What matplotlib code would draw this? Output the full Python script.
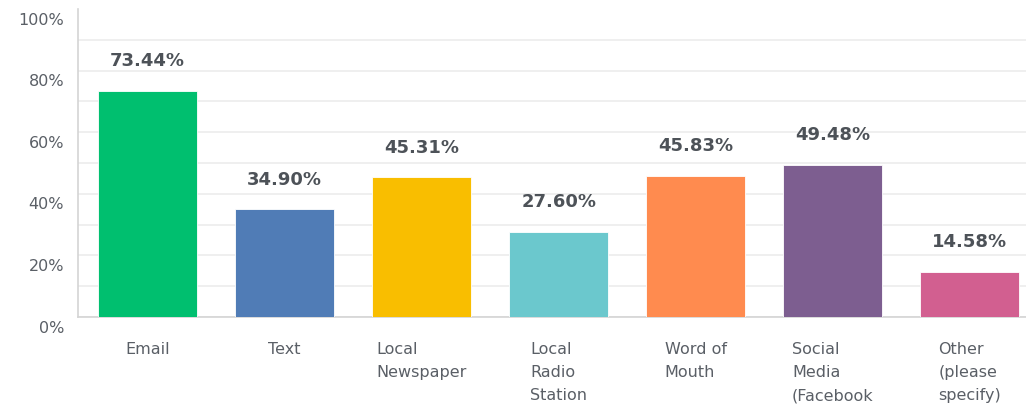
import matplotlib.pyplot as plt
import matplotlib.transforms as mtransforms
import numpy as np

plt.rcParams['font.family'] = ['DejaVu Sans']

categories = ['Email', 'Text', 'Local\nNewspaper', 'Local\nRadio\nStation',
              'Word of\nMouth', 'Social\nMedia\n(Facebook', 'Other\n(please\nspecify)']
values = [73.44, 34.90, 45.31, 27.60, 45.83, 49.48, 14.58]
colors = ['#00BF6F', '#507CB6', '#F9BE00', '#6BC8CD', '#FF8B4F', '#7D5E90', '#D25F90']

fig = plt.figure(figsize=(10.26, 4.11), dpi=100)
ax = fig.add_axes([0.076, 0.229, 0.924, 0.749])

x = np.arange(len(values))
ax.bar(x, values, width=0.72, color=colors, edgecolor='white', linewidth=0.6, zorder=3)

# value labels above each bar
for xi, v in zip(x, values):
    ax.annotate(f'{v:.2f}%', (xi, v), xytext=(0, 15), textcoords='offset points',
                ha='center', va='bottom', fontsize=13, fontweight='bold',
                color='#4d5258')

ax.set_xlim(-0.507, 6.41)
ax.set_ylim(0, 100)
ax.set_yticks(np.arange(0, 101, 20))
ax.set_yticks(np.arange(10, 100, 20), minor=True)
ax.set_yticklabels([f'{t}%' for t in range(0, 101, 20)])
ax.grid(axis='y', which='both', color='#ececec', linewidth=1.2, zorder=0)
ax.yaxis.get_gridlines()[-1].set_visible(False)
ax.tick_params(axis='y', which='both', length=0, pad=10, labelsize=11.5, labelcolor='#5a5f66')
ax.tick_params(axis='x', length=0, pad=18, labelsize=11.5, labelcolor='#5a5f66')

ax.set_xticks(x)
ax.set_xticklabels(categories, multialignment='left', linespacing=1.68, va='top')

# y labels sit a little below their gridlines
offset = mtransforms.ScaledTranslation(0, -7 / 72, fig.dpi_scale_trans)
for lbl in ax.get_yticklabels():
    lbl.set_transform(lbl.get_transform() + offset)

for side in ['top', 'right']:
    ax.spines[side].set_visible(False)
ax.spines['left'].set_color('#d4d4d4')
ax.spines['bottom'].set_color('#d4d4d4')
ax.spines['left'].set_linewidth(1.2)
ax.spines['bottom'].set_linewidth(1.2)

fig.savefig('out.png', dpi=100)
